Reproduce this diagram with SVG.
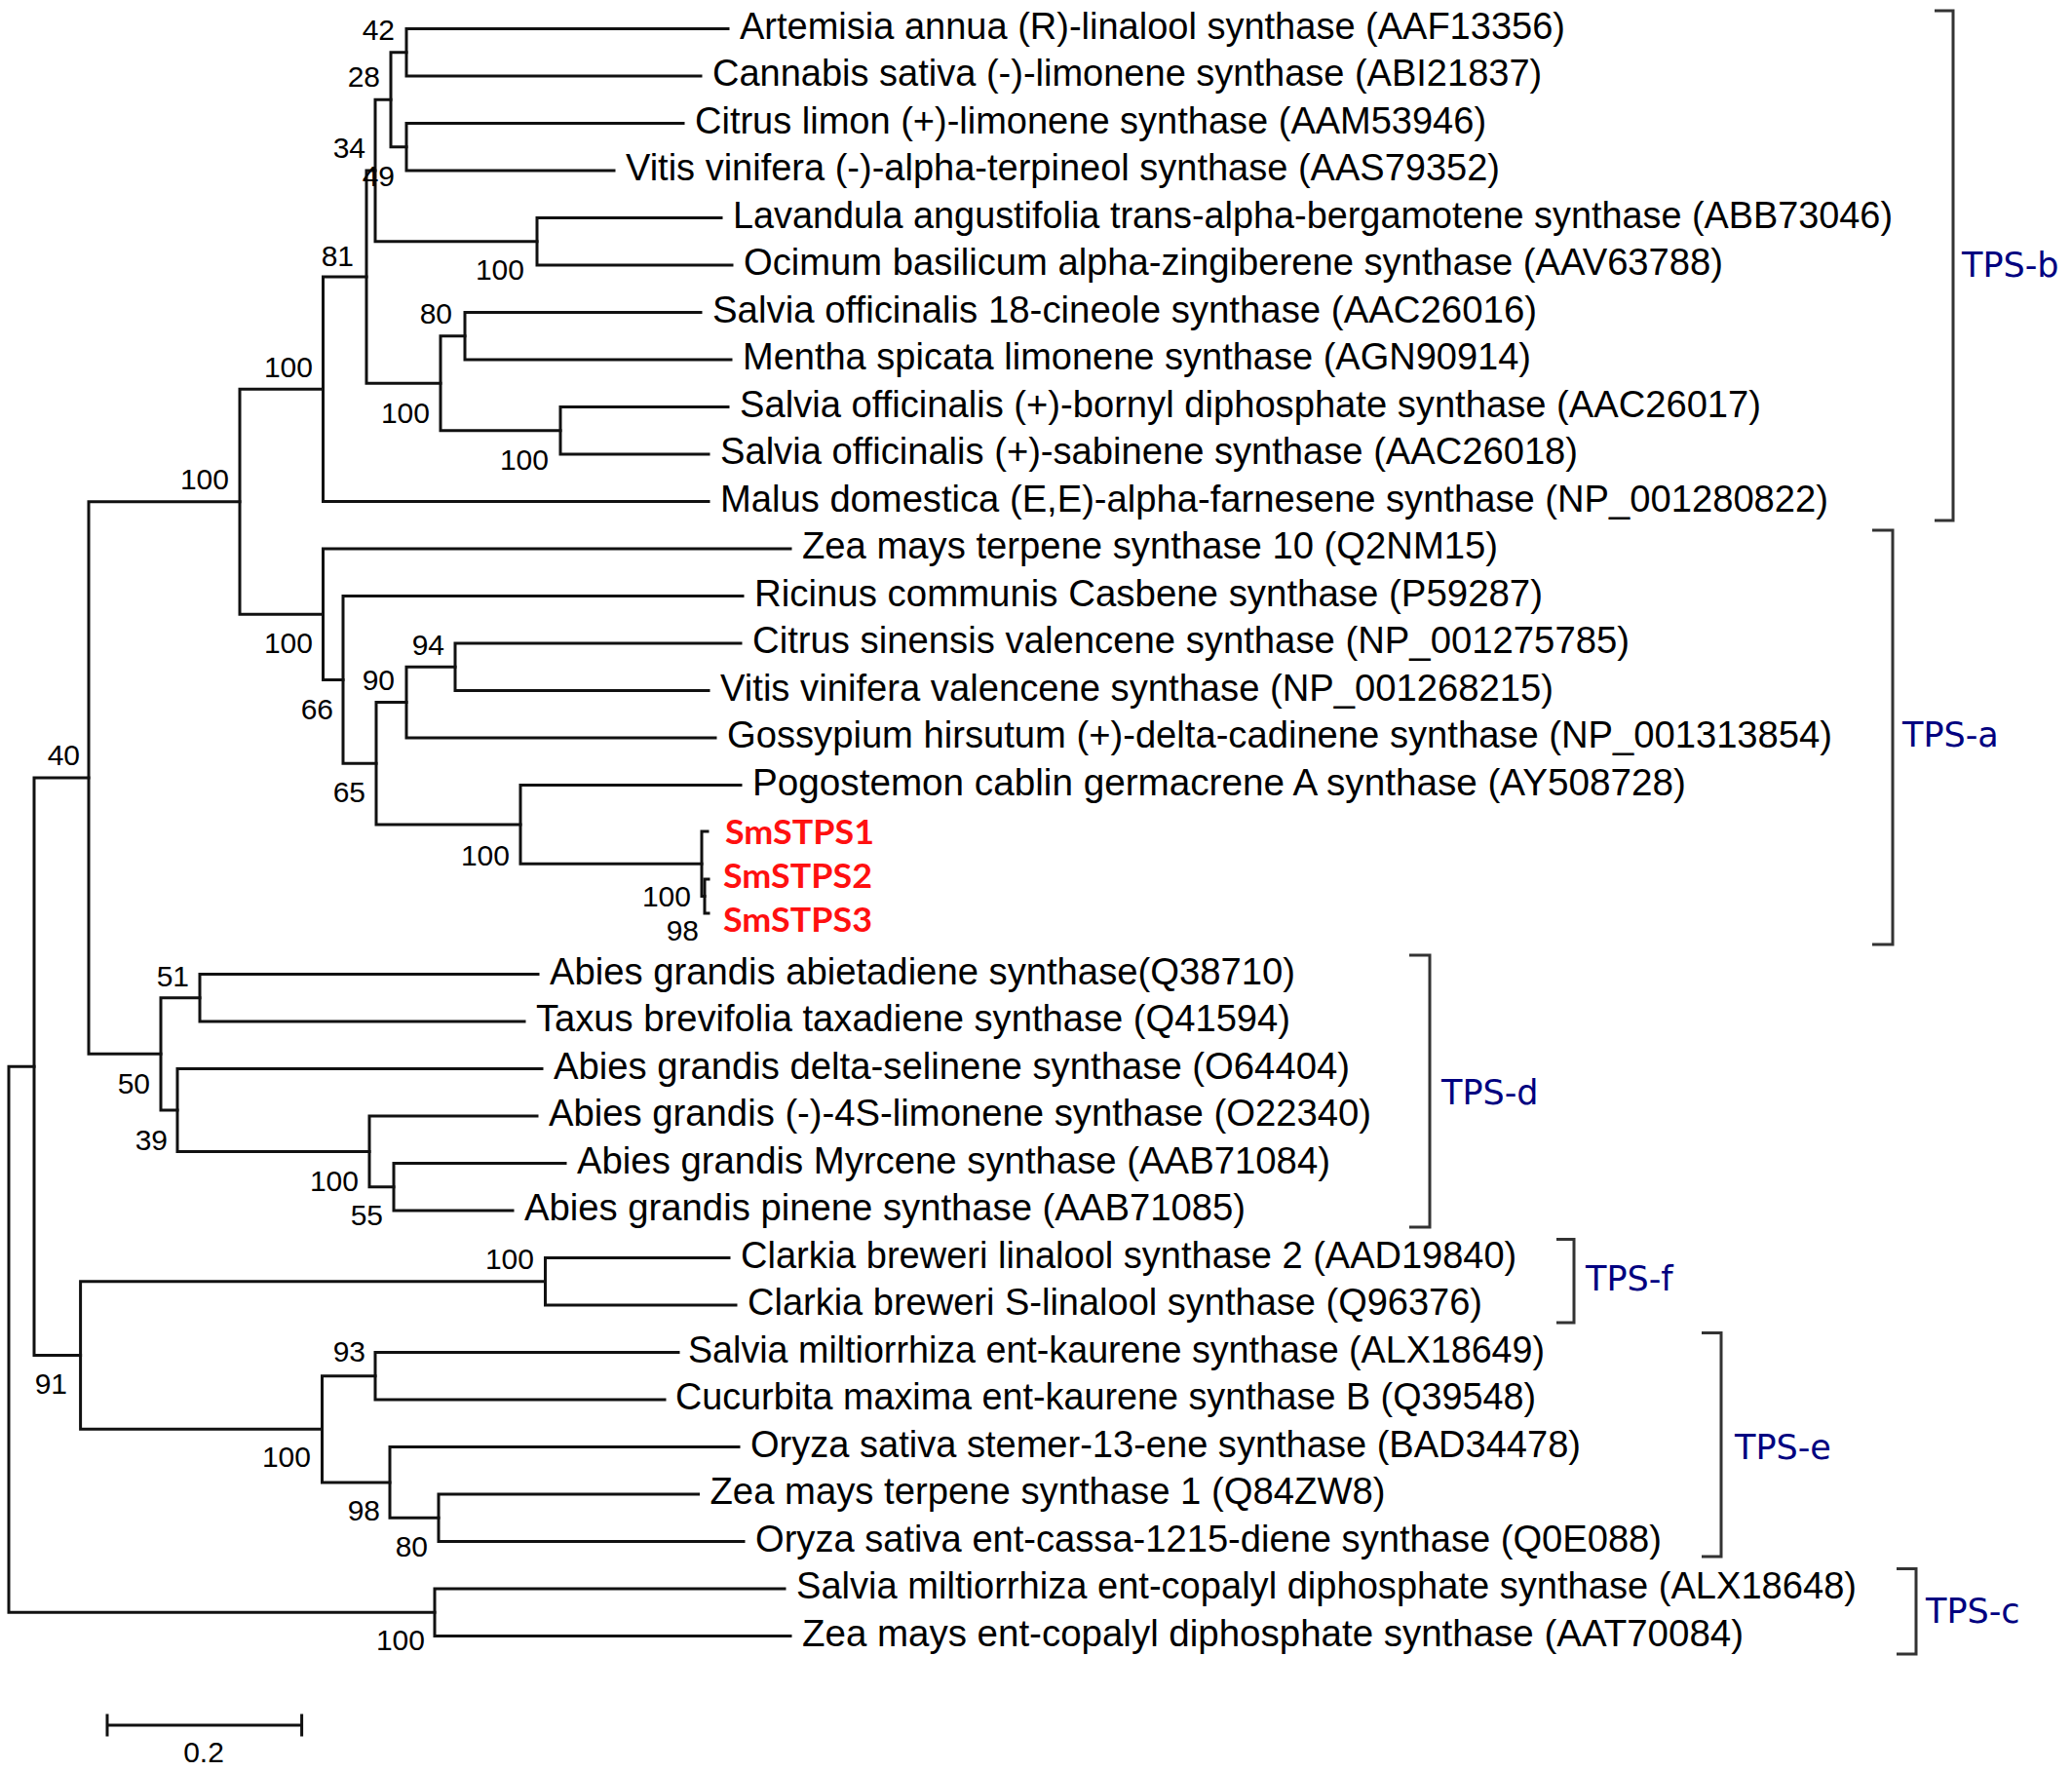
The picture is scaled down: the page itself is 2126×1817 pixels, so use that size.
<svg xmlns="http://www.w3.org/2000/svg" width="2126" height="1817" viewBox="0 0 2126 1817">
<style>
.br{fill:none;stroke:#111;stroke-width:3;stroke-linecap:square}
.bk{fill:none;stroke:#333;stroke-width:3}
.lf{font-family:"Liberation Sans",Arial,sans-serif;font-size:38px;fill:#000}
.sm{font-family:Lato,"Open Sans",sans-serif;font-weight:bold;font-size:34px;fill:#ff1010}
.bs{font-family:"Liberation Sans",Arial,sans-serif;font-size:30px;fill:#000;text-anchor:end}
.cl{font-family:"DejaVu Sans",Verdana,sans-serif;font-size:35px;fill:#000080}
</style>
<rect width="2126" height="1817" fill="#fff"/>
<g id="connectors">
<path class="br" d="M747,29.5 H417 V78 H719"/>
<path class="br" d="M701,126.5 H417 V175 H630"/>
<path class="br" d="M417,53.75 H401 V150.75 H417"/>
<path class="br" d="M740,223.5 H551 V272 H751"/>
<path class="br" d="M401,102.25 H385 V247.75 H551"/>
<path class="br" d="M719,320.5 H477 V369 H750"/>
<path class="br" d="M747,417.5 H575 V466 H727"/>
<path class="br" d="M477,344.75 H452 V441.75 H575"/>
<path class="br" d="M385,175 H376 V393.25 H452"/>
<path class="br" d="M376,284.1 H331.5 V514.5 H727"/>
<path class="br" d="M760,660 H467 V708.5 H727"/>
<path class="br" d="M467,684.25 H417 V757 H734"/>
<path class="br" d="M727,902 H723 V937 H727"/>
<path class="br" d="M726,853 H720 V919.5 H723"/>
<path class="br" d="M760,805.5 H534 V886.25 H720"/>
<path class="br" d="M417,720.6 H386 V845.9 H534"/>
<path class="br" d="M762,611.5 H352 V783.25 H386"/>
<path class="br" d="M811,563 H331.5 V697.4 H352"/>
<path class="br" d="M331.5,399.3 H246 V630.2 H331.5"/>
<path class="br" d="M552,999.5 H205 V1048 H538"/>
<path class="br" d="M580,1193.5 H404 V1242 H526"/>
<path class="br" d="M551,1145 H379 V1217.75 H404"/>
<path class="br" d="M556,1096.5 H182 V1181.4 H379"/>
<path class="br" d="M205,1023.75 H165 V1138.95 H182"/>
<path class="br" d="M246,514.75 H91 V1081.35 H165"/>
<path class="br" d="M748,1290.5 H559.5 V1339 H755"/>
<path class="br" d="M696,1387.5 H385 V1436 H682"/>
<path class="br" d="M716.5,1533 H450 V1581.5 H763"/>
<path class="br" d="M758,1484.5 H400 V1557.25 H450"/>
<path class="br" d="M385,1411.75 H330.5 V1520.9 H400"/>
<path class="br" d="M559.5,1314.75 H82.6 V1466.3 H330.5"/>
<path class="br" d="M91,798.05 H35 V1390.5 H82.6"/>
<path class="br" d="M805,1630 H446 V1678.5 H811"/>
<path class="br" d="M35,1094.3 H9 V1654.25 H446"/>
</g>
<g id="leaves">
<g id="leaf1"><text class="lf" x="759" y="39.5">Artemisia annua (R)-linalool synthase (AAF13356)</text></g>
<g id="leaf2"><text class="lf" x="731" y="88">Cannabis sativa (-)-limonene synthase (ABI21837)</text></g>
<g id="leaf3"><text class="lf" x="713" y="136.5">Citrus limon (+)-limonene synthase (AAM53946)</text></g>
<g id="leaf4"><text class="lf" x="642" y="185">Vitis vinifera (-)-alpha-terpineol synthase (AAS79352)</text></g>
<g id="leaf5"><text class="lf" x="752" y="233.5" textLength="1190" lengthAdjust="spacingAndGlyphs">Lavandula angustifolia trans-alpha-bergamotene synthase (ABB73046)</text></g>
<g id="leaf6"><text class="lf" x="763" y="282" textLength="1005" lengthAdjust="spacingAndGlyphs">Ocimum basilicum alpha-zingiberene synthase (AAV63788)</text></g>
<g id="leaf7"><text class="lf" x="731" y="330.5" textLength="846" lengthAdjust="spacingAndGlyphs">Salvia officinalis 18-cineole synthase (AAC26016)</text></g>
<g id="leaf8"><text class="lf" x="762" y="379">Mentha spicata limonene synthase (AGN90914)</text></g>
<g id="leaf9"><text class="lf" x="759" y="427.5" textLength="1048" lengthAdjust="spacingAndGlyphs">Salvia officinalis (+)-bornyl diphosphate synthase (AAC26017)</text></g>
<g id="leaf10"><text class="lf" x="739" y="476" textLength="880" lengthAdjust="spacingAndGlyphs">Salvia officinalis (+)-sabinene synthase (AAC26018)</text></g>
<g id="leaf11"><text class="lf" x="739" y="524.5" textLength="1137" lengthAdjust="spacingAndGlyphs">Malus domestica (E,E)-alpha-farnesene synthase (NP_001280822)</text></g>
<g id="leaf12"><text class="lf" x="823" y="573" textLength="714" lengthAdjust="spacingAndGlyphs">Zea mays terpene synthase 10 (Q2NM15)</text></g>
<g id="leaf13"><text class="lf" x="774" y="621.5" textLength="809" lengthAdjust="spacingAndGlyphs">Ricinus communis Casbene synthase (P59287)</text></g>
<g id="leaf14"><text class="lf" x="772" y="670" textLength="900" lengthAdjust="spacingAndGlyphs">Citrus sinensis valencene synthase (NP_001275785)</text></g>
<g id="leaf15"><text class="lf" x="739" y="718.5" textLength="855" lengthAdjust="spacingAndGlyphs">Vitis vinifera valencene synthase (NP_001268215)</text></g>
<g id="leaf16"><text class="lf" x="746" y="767" textLength="1134" lengthAdjust="spacingAndGlyphs">Gossypium hirsutum (+)-delta-cadinene synthase (NP_001313854)</text></g>
<g id="leaf17"><text class="lf" x="772" y="815.5" textLength="958" lengthAdjust="spacingAndGlyphs">Pogostemon cablin germacrene A synthase (AY508728)</text></g>
<g id="leaf18"><text class="sm" x="744" y="866" textLength="153" lengthAdjust="spacingAndGlyphs">SmSTPS1</text></g>
<g id="leaf19"><text class="sm" x="742" y="911" textLength="153" lengthAdjust="spacingAndGlyphs">SmSTPS2</text></g>
<g id="leaf20"><text class="sm" x="742" y="956" textLength="153" lengthAdjust="spacingAndGlyphs">SmSTPS3</text></g>
<g id="leaf21"><text class="lf" x="564" y="1009.5" textLength="765" lengthAdjust="spacingAndGlyphs">Abies grandis abietadiene synthase(Q38710)</text></g>
<g id="leaf22"><text class="lf" x="550" y="1058" textLength="774" lengthAdjust="spacingAndGlyphs">Taxus brevifolia taxadiene synthase (Q41594)</text></g>
<g id="leaf23"><text class="lf" x="568" y="1106.5" textLength="817" lengthAdjust="spacingAndGlyphs">Abies grandis delta-selinene synthase (O64404)</text></g>
<g id="leaf24"><text class="lf" x="563" y="1155" textLength="844" lengthAdjust="spacingAndGlyphs">Abies grandis (-)-4S-limonene synthase (O22340)</text></g>
<g id="leaf25"><text class="lf" x="592" y="1203.5" textLength="773" lengthAdjust="spacingAndGlyphs">Abies grandis Myrcene synthase (AAB71084)</text></g>
<g id="leaf26"><text class="lf" x="538" y="1252" textLength="740" lengthAdjust="spacingAndGlyphs">Abies grandis pinene synthase (AAB71085)</text></g>
<g id="leaf27"><text class="lf" x="760" y="1300.5">Clarkia breweri linalool synthase 2 (AAD19840)</text></g>
<g id="leaf28"><text class="lf" x="767" y="1349">Clarkia breweri S-linalool synthase (Q96376)</text></g>
<g id="leaf29"><text class="lf" x="706" y="1397.5" textLength="879" lengthAdjust="spacingAndGlyphs">Salvia miltiorrhiza ent-kaurene synthase (ALX18649)</text></g>
<g id="leaf30"><text class="lf" x="693" y="1446" textLength="883" lengthAdjust="spacingAndGlyphs">Cucurbita maxima ent-kaurene synthase B (Q39548)</text></g>
<g id="leaf31"><text class="lf" x="770" y="1494.5" textLength="852" lengthAdjust="spacingAndGlyphs">Oryza sativa stemer-13-ene synthase (BAD34478)</text></g>
<g id="leaf32"><text class="lf" x="728.5" y="1543" textLength="693" lengthAdjust="spacingAndGlyphs">Zea mays terpene synthase 1 (Q84ZW8)</text></g>
<g id="leaf33"><text class="lf" x="775" y="1591.5" textLength="930" lengthAdjust="spacingAndGlyphs">Oryza sativa ent-cassa-1215-diene synthase (Q0E088)</text></g>
<g id="leaf34"><text class="lf" x="817" y="1640" textLength="1088" lengthAdjust="spacingAndGlyphs">Salvia miltiorrhiza ent-copalyl diphosphate synthase (ALX18648)</text></g>
<g id="leaf35"><text class="lf" x="823" y="1688.5" textLength="966" lengthAdjust="spacingAndGlyphs">Zea mays ent-copalyl diphosphate synthase (AAT70084)</text></g>
</g>
<g id="bootstrap">
<text class="bs" x="405" y="41">42</text>
<text class="bs" x="390" y="89">28</text>
<text class="bs" x="375" y="162">34</text>
<text class="bs" x="405" y="191">49</text>
<text class="bs" x="538" y="287">100</text>
<text class="bs" x="363" y="273">81</text>
<text class="bs" x="464" y="332">80</text>
<text class="bs" x="441" y="434">100</text>
<text class="bs" x="563" y="482">100</text>
<text class="bs" x="321" y="387">100</text>
<text class="bs" x="235" y="502">100</text>
<text class="bs" x="321" y="670">100</text>
<text class="bs" x="342" y="738">66</text>
<text class="bs" x="456" y="672">94</text>
<text class="bs" x="405" y="708">90</text>
<text class="bs" x="375" y="823">65</text>
<text class="bs" x="523" y="888">100</text>
<text class="bs" x="709" y="930">100</text>
<text class="bs" x="717" y="965">98</text>
<text class="bs" x="82" y="785">40</text>
<text class="bs" x="194" y="1012">51</text>
<text class="bs" x="154" y="1122">50</text>
<text class="bs" x="172" y="1180">39</text>
<text class="bs" x="368" y="1222">100</text>
<text class="bs" x="393" y="1257">55</text>
<text class="bs" x="548" y="1302">100</text>
<text class="bs" x="69" y="1430">91</text>
<text class="bs" x="375" y="1397">93</text>
<text class="bs" x="319" y="1505">100</text>
<text class="bs" x="390" y="1560">98</text>
<text class="bs" x="439" y="1597">80</text>
<text class="bs" x="436" y="1693">100</text>
</g>
<g id="clades">
<g id="tps-b"><path class="bk" d="M1985,11 H2004 V534 H1985"/><text class="cl" x="2013" y="284">TPS-b</text></g>
<g id="tps-a"><path class="bk" d="M1921,544 H1942 V969 H1921"/><text class="cl" x="1952" y="766">TPS-a</text></g>
<g id="tps-d"><path class="bk" d="M1446,980 H1467 V1259 H1446"/><text class="cl" x="1479" y="1133">TPS-d</text></g>
<g id="tps-f"><path class="bk" d="M1597,1271.5 H1615 V1357 H1597"/><text class="cl" x="1627" y="1324">TPS-f</text></g>
<g id="tps-e"><path class="bk" d="M1746,1367.5 H1766 V1597 H1746"/><text class="cl" x="1780" y="1497">TPS-e</text></g>
<g id="tps-c"><path class="bk" d="M1946,1609.6 H1966 V1697 H1946"/><text class="cl" x="1976" y="1665">TPS-c</text></g>
</g>
<g id="scalebar">
<path class="br" d="M110,1770 H309.6 M110,1760 V1780 M309.6,1760 V1780"/>
<text class="bs" x="209" y="1808" style="text-anchor:middle">0.2</text>
</g>
</svg>
